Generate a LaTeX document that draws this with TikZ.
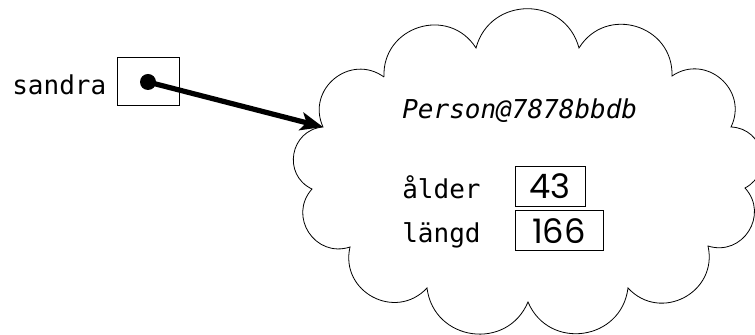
\documentclass[tikz,border=0pt]{standalone}
\usepackage{fontspec}
\setmonofont{DejaVu Sans Mono}
\newfontfamily\numfont{Poppins}
\usetikzlibrary{arrows.meta}
\tikzset{
	vartext/.style={font=\ttfamily\fontsize{18.5}{20}\selectfont, inner sep=0pt, anchor=base west},
	valbox/.style={draw, line width=0.25mm, inner sep=0pt, font=\numfont\fontsize{24}{25}\selectfont},
	puff/.style={bend left=75, looseness=1.35},
}

\begin{document}
\begin{tikzpicture}
			%%%%% START %%%%%
			\useasboundingbox (0, 0) rectangle (18.875, 8.375);
			
			% cloud corners, clockwise from top left
			\foreach \n/\p in {1/{9.6, 6.45}, 2/{11.9, 7.175}, 3/{14.475, 7.175}, 4/{16.8, 6.475},
				5/{18.275, 5.2}, 6/{18.625, 3.675}, 7/{17.7, 2.225}, 8/{15.7, 1.175}, 9/{13.2, 0.825},
				10/{10.675, 1.175}, 11/{8.75, 2.2}, 12/{7.8, 3.65}, 13/{8.075, 5.2}}
				\coordinate (c\n) at (\p);
			\draw[line width=0.2mm] (c1) to[puff] (c2) to[puff] (c3) to[puff] (c4) to[puff] (c5)
				to[puff] (c6) to[puff] (c7) to[puff] (c8) to[puff] (c9) to[puff] (c10)
				to[puff] (c11) to[puff] (c12) to[puff] (c13) to[puff] (c1);
			
			\node[vartext] (sandra) at (0.3, 6.0) {sandra};
			\node[draw, line width=0.25mm, minimum width=1.55cm, minimum height=1.2cm] (ref) at (3.7, 6.325) {};
			\fill (ref.center) circle (0.2);
			\draw[line width=1.3mm, -{Stealth[length=16pt, width=13pt, inset=4pt]}] (ref.center) -- (c13);
			
			\node[vartext, font=\ttfamily\itshape\fontsize{18.5}{20}\selectfont] (cls) at (10.05, 5.42) {Person@7878bbdb};
			
			\node[vartext] (alder) at (10.05, 3.42) {ålder};
			\node[vartext] (langd) at (10.05, 2.32) {längd};
			\node[valbox, minimum width=1.75cm, minimum height=1.02cm] (v43) at (13.75, 3.71) {43};
			\node[valbox, minimum width=2.2cm, minimum height=1.02cm] (v166) at (13.975, 2.61) {166};
			
			%%%%% END %%%%%
		\end{tikzpicture}
\end{document}
